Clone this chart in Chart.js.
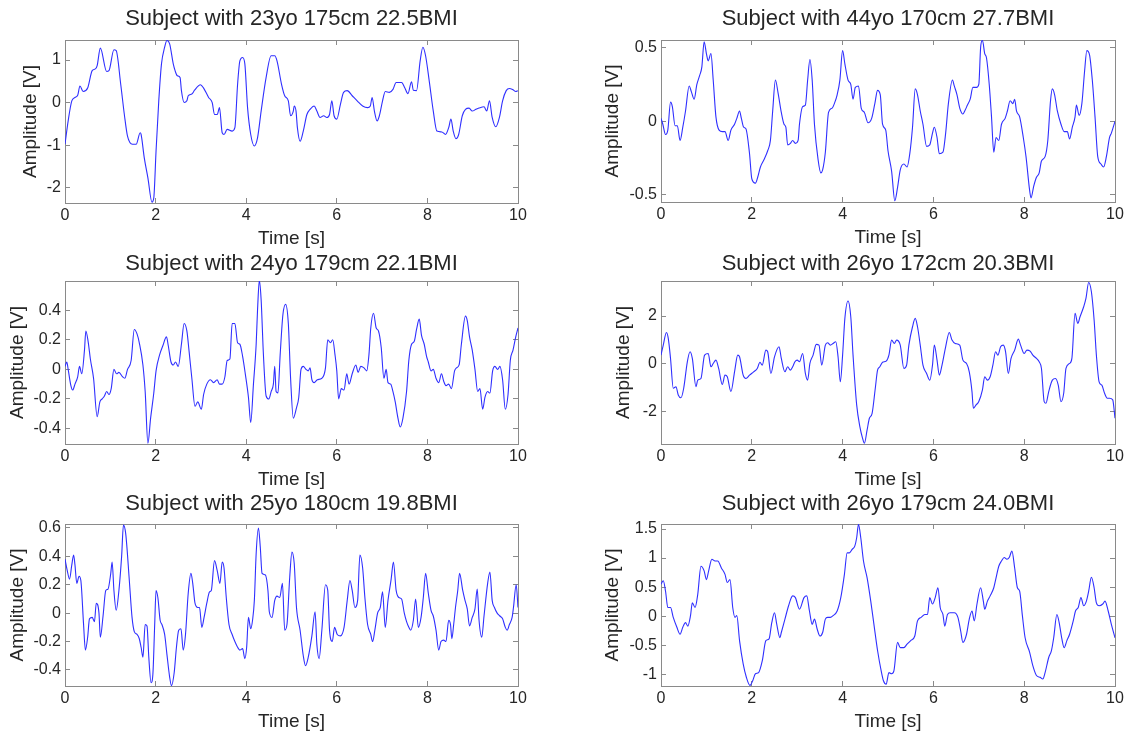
<!DOCTYPE html>
<html><head><meta charset="utf-8">
<script src="https://cdn.jsdelivr.net/npm/chart.js@4.4.1/dist/chart.umd.min.js"></script>
<style>
html,body{margin:0;padding:0;background:#fff;}
#wrap{position:relative;width:1127px;height:735px;overflow:hidden;background:#fff;}
canvas{position:absolute;left:0;top:0;}
</style></head><body><div id="wrap">
<canvas id="c0" width="1160" height="735"></canvas>
<canvas id="c1" width="1160" height="735"></canvas>
<canvas id="c2" width="1160" height="735"></canvas>
<canvas id="c3" width="1160" height="735"></canvas>
<canvas id="c4" width="1160" height="735"></canvas>
<canvas id="c5" width="1160" height="735"></canvas>
</div>
<script>
const titles = [
  "Subject with 23yo 175cm 22.5BMI",
  "Subject with 44yo 170cm 27.7BMI",
  "Subject with 24yo 179cm 22.1BMI",
  "Subject with 26yo 172cm 20.3BMI",
  "Subject with 25yo 180cm 19.8BMI",
  "Subject with 26yo 179cm 24.0BMI"
];
const xLabel = "Time [s]";
const yLabel = "Amplitude [V]";
const xMin = 0, xMax = 10, xStep = 2;
const yMins = [-2.36, -0.548, -0.505, -3.37, -0.513, -1.2];
const yMaxs = [1.47, 0.552, 0.598, 3.47, 0.628, 1.586];
const ySteps = [1, 0.5, 0.2, 2, 0.2, 0.5];

// [time s, amplitude V]
const sig1 = [[0,-0.98],[0.07,-0.43],[0.15,0.04],[0.22,0.12],[0.28,0.17],[0.33,0.39],[0.4,0.26],[0.5,0.34],[0.6,0.75],[0.67,0.79],[0.71,0.87],[0.78,1.28],[0.92,0.73],[0.97,0.75],[1.08,1.24],[1.13,1.22],[1.23,0.43],[1.31,-0.28],[1.38,-0.79],[1.49,-0.98],[1.57,-0.98],[1.66,-0.71],[1.68,-0.75],[1.75,-1.3],[1.83,-1.77],[1.92,-2.34],[1.96,-2.24],[2.01,-1.14],[2.07,0.04],[2.13,0.91],[2.2,1.3],[2.25,1.46],[2.31,1.38],[2.39,0.91],[2.43,0.75],[2.48,0.63],[2.54,0.59],[2.57,0.28],[2.63,0],[2.69,0.04],[2.72,0.16],[2.8,0.2],[2.86,0.29],[2.99,0.42],[3.06,0.34],[3.17,0.12],[3.25,0],[3.3,-0.28],[3.36,-0.28],[3.41,-0.12],[3.47,-0.71],[3.51,-0.75],[3.58,-0.63],[3.69,-0.67],[3.75,-0.59],[3.81,0.43],[3.86,0.98],[3.92,1.06],[3.97,0.91],[4.03,-0.12],[4.1,-0.75],[4.18,-1.02],[4.25,-0.83],[4.33,-0.2],[4.44,0.59],[4.55,1.1],[4.63,1.1],[4.68,0.98],[4.78,0.43],[4.85,0.16],[4.93,0.04],[4.98,-0.31],[5.04,-0.2],[5.06,-0.08],[5.1,-0.2],[5.13,-0.59],[5.19,-0.91],[5.26,-0.67],[5.34,-0.28],[5.41,-0.16],[5.5,-0.08],[5.56,-0.2],[5.63,-0.35],[5.71,-0.31],[5.78,-0.35],[5.84,-0.28],[5.89,0.04],[5.94,-0.31],[6,-0.39],[6.08,-0.04],[6.15,0.24],[6.23,0.28],[6.34,0.16],[6.45,0.04],[6.57,-0.08],[6.68,-0.12],[6.74,-0.08],[6.78,0.12],[6.83,-0.2],[6.89,-0.43],[6.94,-0.31],[7.01,0.04],[7.07,0.26],[7.16,0.24],[7.24,0.31],[7.31,0.47],[7.43,0.47],[7.5,0.35],[7.57,0.21],[7.65,0.49],[7.69,0.29],[7.76,0.28],[7.84,0.98],[7.9,1.3],[7.96,1.1],[8.04,0.51],[8.13,-0.2],[8.21,-0.67],[8.32,-0.69],[8.4,-0.75],[8.47,-0.59],[8.52,-0.39],[8.57,-0.67],[8.63,-0.85],[8.69,-0.75],[8.77,-0.31],[8.84,-0.16],[8.92,-0.13],[8.99,-0.2],[9.07,-0.16],[9.14,-0.13],[9.25,-0.1],[9.31,-0.2],[9.37,0.04],[9.43,-0.35],[9.51,-0.57],[9.59,-0.35],[9.66,0.04],[9.74,0.28],[9.81,0.33],[9.89,0.3],[9.95,0.26],[10,0.28]];

const sig2 = [[0,0.02],[0.04,-0.02],[0.1,-0.09],[0.15,-0.06],[0.21,0.13],[0.25,0.1],[0.31,-0.03],[0.36,-0.03],[0.42,-0.13],[0.48,-0.04],[0.54,0.07],[0.62,0.24],[0.67,0.2],[0.73,0.15],[0.79,0.25],[0.85,0.31],[0.9,0.37],[0.95,0.54],[1,0.46],[1.04,0.41],[1.1,0.46],[1.15,0.28],[1.21,0.03],[1.28,-0.06],[1.35,-0.07],[1.41,-0.07],[1.48,-0.13],[1.54,-0.06],[1.62,-0.02],[1.67,0.02],[1.73,0.07],[1.77,0.02],[1.82,-0.04],[1.87,-0.05],[1.95,-0.22],[2,-0.39],[2.08,-0.42],[2.13,-0.38],[2.19,-0.31],[2.27,-0.26],[2.35,-0.2],[2.41,-0.13],[2.46,0.07],[2.52,0.28],[2.58,0.19],[2.65,0.06],[2.71,-0.02],[2.75,-0.04],[2.79,-0.16],[2.85,-0.15],[2.9,-0.13],[2.96,-0.15],[3.02,-0.13],[3.05,-0.02],[3.12,0.1],[3.18,0.11],[3.23,0.28],[3.28,0.42],[3.33,0.28],[3.38,-0.02],[3.46,-0.26],[3.52,-0.35],[3.56,-0.33],[3.62,-0.21],[3.69,0.06],[3.77,0.09],[3.83,0.13],[3.88,0.18],[3.94,0.28],[4,0.48],[4.05,0.39],[4.12,0.28],[4.18,0.25],[4.23,0.15],[4.28,0.23],[4.35,0.24],[4.41,0.09],[4.48,0.06],[4.56,-0.01],[4.64,0.02],[4.71,0.12],[4.77,0.21],[4.83,0.18],[4.88,-0.02],[4.95,-0.06],[5,-0.2],[5.08,-0.34],[5.15,-0.54],[5.21,-0.45],[5.27,-0.33],[5.35,-0.29],[5.42,-0.31],[5.48,-0.22],[5.54,-0.04],[5.6,0.22],[5.65,0.18],[5.71,0.07],[5.77,-0.02],[5.85,-0.17],[5.92,-0.16],[5.98,-0.08],[6.02,-0.04],[6.08,-0.11],[6.13,-0.22],[6.21,-0.21],[6.27,-0.08],[6.33,0.12],[6.42,0.28],[6.46,0.24],[6.52,0.18],[6.58,0.09],[6.65,0.05],[6.69,0.07],[6.75,0.11],[6.81,0.15],[6.87,0.23],[6.95,0.23],[7,0.25],[7.04,0.5],[7.08,0.55],[7.13,0.46],[7.17,0.43],[7.23,0.25],[7.28,0.03],[7.33,-0.21],[7.38,-0.11],[7.44,-0.13],[7.5,-0.02],[7.58,0.02],[7.63,0.07],[7.69,0.14],[7.75,0.12],[7.79,0.15],[7.83,0.07],[7.9,0.03],[7.98,-0.11],[8.04,-0.24],[8.12,-0.47],[8.15,-0.52],[8.21,-0.44],[8.27,-0.38],[8.33,-0.35],[8.38,-0.27],[8.46,-0.24],[8.52,-0.13],[8.58,0.14],[8.62,0.22],[8.67,0.18],[8.73,0.07],[8.81,-0.02],[8.88,-0.07],[8.95,-0.07],[9,-0.12],[9.06,-0.04],[9.12,0.03],[9.15,0.11],[9.21,0.04],[9.27,0.12],[9.33,0.34],[9.38,0.48],[9.44,0.45],[9.5,0.28],[9.56,0.03],[9.62,-0.24],[9.69,-0.29],[9.75,-0.31],[9.81,-0.24],[9.88,-0.11],[9.92,-0.08],[10,0]];

const sig3 = [[0,0.02],[0.04,0.05],[0.07,0],[0.13,-0.11],[0.17,-0.14],[0.22,-0.1],[0.28,-0.05],[0.32,0.02],[0.37,-0.03],[0.43,0.13],[0.46,0.26],[0.51,0.19],[0.56,0.07],[0.63,-0.06],[0.71,-0.32],[0.77,-0.22],[0.82,-0.2],[0.87,-0.18],[0.92,-0.15],[0.97,-0.17],[1.02,-0.13],[1.08,0],[1.14,-0.03],[1.19,-0.02],[1.27,-0.05],[1.32,-0.06],[1.38,0],[1.46,0.06],[1.53,0.27],[1.59,0.24],[1.64,0.18],[1.72,0.03],[1.77,-0.15],[1.83,-0.5],[1.89,-0.33],[1.96,-0.16],[2.01,-0.01],[2.09,0.1],[2.16,0.16],[2.24,0.22],[2.28,0.16],[2.34,0.05],[2.39,0.03],[2.44,0.05],[2.5,0.02],[2.57,0.17],[2.63,0.31],[2.69,0.26],[2.74,0.12],[2.8,-0.06],[2.87,-0.25],[2.93,-0.22],[3.01,-0.27],[3.06,-0.17],[3.13,-0.1],[3.21,-0.07],[3.28,-0.09],[3.36,-0.07],[3.41,-0.1],[3.47,-0.1],[3.53,-0.05],[3.58,0.06],[3.64,0.07],[3.69,0.31],[3.75,0.31],[3.81,0.18],[3.86,0.17],[3.92,0.09],[3.98,-0.03],[4.05,-0.19],[4.1,-0.36],[4.16,-0.1],[4.22,0.17],[4.25,0.4],[4.29,0.6],[4.33,0.47],[4.38,0.1],[4.44,-0.18],[4.5,-0.2],[4.55,-0.15],[4.6,-0.1],[4.63,0.02],[4.66,-0.15],[4.7,-0.16],[4.75,0.1],[4.81,0.37],[4.87,0.44],[4.93,0.31],[4.98,-0.06],[5.04,-0.33],[5.11,-0.26],[5.16,-0.19],[5.21,0],[5.26,0.02],[5.32,0],[5.37,-0.01],[5.41,0.01],[5.45,-0.07],[5.5,-0.09],[5.57,-0.07],[5.67,-0.06],[5.75,0.01],[5.8,0.2],[5.86,0.18],[5.91,0.2],[5.96,0.1],[6,-0.01],[6.04,-0.2],[6.1,-0.13],[6.16,-0.14],[6.22,-0.03],[6.27,-0.1],[6.34,-0.03],[6.42,0.03],[6.47,-0.02],[6.53,0.02],[6.6,0.01],[6.66,-0.01],[6.71,0.1],[6.75,0.28],[6.81,0.38],[6.87,0.28],[6.92,0.26],[6.98,0.15],[7.04,-0.06],[7.09,0],[7.13,-0.09],[7.19,-0.1],[7.24,-0.15],[7.29,-0.22],[7.35,-0.33],[7.4,-0.39],[7.46,-0.33],[7.54,-0.15],[7.59,0.06],[7.65,0.17],[7.71,0.19],[7.76,0.27],[7.82,0.34],[7.87,0.23],[7.93,0.17],[7.98,0.09],[8.02,0.05],[8.08,-0.01],[8.13,0],[8.19,-0.06],[8.25,-0.09],[8.31,-0.03],[8.36,-0.08],[8.41,-0.11],[8.47,-0.1],[8.53,-0.13],[8.6,-0.01],[8.64,0.01],[8.7,0.03],[8.75,0.17],[8.84,0.36],[8.88,0.33],[8.93,0.22],[8.99,0.13],[9.05,0],[9.11,-0.15],[9.16,-0.13],[9.22,-0.27],[9.27,-0.19],[9.33,-0.15],[9.38,-0.16],[9.44,-0.01],[9.49,0.02],[9.55,0],[9.6,0.02],[9.66,-0.07],[9.72,-0.27],[9.78,-0.17],[9.83,0.06],[9.89,0.13],[9.95,0.22],[10,0.28]];

const sig4 = [[0,0.36],[0.05,0.78],[0.12,1.31],[0.16,1.06],[0.21,0.22],[0.27,-1.03],[0.33,-0.97],[0.38,-1.31],[0.44,-1.43],[0.5,-1.03],[0.58,0.08],[0.64,0.5],[0.69,0.22],[0.77,-0.97],[0.81,-0.69],[0.88,-0.62],[0.96,0.36],[1.04,0.43],[1.1,-0.13],[1.15,0.01],[1.21,0.15],[1.27,-0.2],[1.35,-0.87],[1.41,-0.48],[1.46,-0.55],[1.54,-1.17],[1.62,-0.34],[1.69,0.36],[1.73,0.29],[1.81,-0.48],[1.87,-0.62],[1.95,-0.48],[2.04,-0.34],[2.12,-0.2],[2.18,0.06],[2.23,-0.06],[2.31,0.57],[2.35,0.5],[2.42,-0.41],[2.5,0.29],[2.6,0.71],[2.65,0.22],[2.73,-0.34],[2.79,-0.13],[2.85,-0.27],[2.9,-0.13],[2.95,0.08],[3,0.15],[3.05,0.08],[3.12,0.43],[3.18,-0.41],[3.23,-0.69],[3.28,0.01],[3.35,0.36],[3.42,0.81],[3.48,0.78],[3.54,-0.06],[3.62,0.78],[3.67,0.88],[3.73,0.78],[3.79,0.85],[3.85,0.92],[3.9,0.29],[3.95,-0.76],[4,0.36],[4.05,1.9],[4.12,2.63],[4.18,1.97],[4.23,0.36],[4.31,-1.73],[4.38,-2.64],[4.44,-3.13],[4.48,-3.34],[4.54,-2.78],[4.59,-2.29],[4.65,-2.08],[4.72,-1.03],[4.77,-0.27],[4.82,-0.13],[4.88,0.06],[4.96,0.11],[5.02,0.36],[5.08,0.99],[5.14,0.85],[5.19,0.99],[5.27,0.78],[5.35,-0.2],[5.41,-0.06],[5.46,0.78],[5.54,1.55],[5.6,1.9],[5.65,1.55],[5.71,0.78],[5.77,-0.06],[5.85,-0.41],[5.92,-0.69],[5.98,-0.06],[6.02,0.78],[6.08,0.15],[6.13,-0.48],[6.19,-0.06],[6.27,0.71],[6.35,1.31],[6.41,0.99],[6.48,0.85],[6.58,0.78],[6.65,0.15],[6.73,0.01],[6.79,-0.34],[6.85,-1.17],[6.88,-1.87],[6.94,-1.73],[7,-1.59],[7.08,-1.1],[7.13,-0.55],[7.19,-0.69],[7.25,-0.55],[7.31,-0.06],[7.37,0.5],[7.42,0.36],[7.48,0.71],[7.54,0.78],[7.59,0.5],[7.65,-0.41],[7.71,0.22],[7.79,0.57],[7.87,1.03],[7.92,0.78],[8,0.43],[8.06,0.57],[8.13,0.53],[8.19,0.36],[8.27,0.22],[8.33,0.08],[8.38,-0.2],[8.44,-1.59],[8.48,-1.66],[8.54,-1.17],[8.62,-0.69],[8.69,-0.62],[8.75,-0.9],[8.81,-1.59],[8.87,-1.24],[8.92,-0.2],[9,0.01],[9.05,0.22],[9.12,2.11],[9.18,1.69],[9.23,1.97],[9.31,2.39],[9.36,2.74],[9.42,3.41],[9.48,3.02],[9.54,1.83],[9.59,0.36],[9.65,-0.76],[9.71,-0.9],[9.77,-1.24],[9.83,-1.45],[9.88,-1.45],[9.95,-1.52],[10,-2.29]];

const sig5 = [[0,0.38],[0.05,0.3],[0.1,0.24],[0.15,0.34],[0.19,0.41],[0.22,0.34],[0.26,0.21],[0.31,0.26],[0.35,0.23],[0.41,-0.08],[0.45,-0.26],[0.5,-0.17],[0.54,-0.04],[0.6,-0.03],[0.65,-0.06],[0.69,0.07],[0.75,0],[0.78,-0.17],[0.84,-0.02],[0.9,0.16],[0.95,0.17],[1.01,0.28],[1.04,0.36],[1.08,0.16],[1.13,0.02],[1.19,0.16],[1.25,0.4],[1.29,0.62],[1.34,0.56],[1.42,0.23],[1.48,-0.03],[1.53,-0.13],[1.59,-0.15],[1.64,-0.18],[1.68,-0.24],[1.72,-0.31],[1.77,-0.08],[1.81,-0.09],[1.85,-0.31],[1.9,-0.49],[1.94,-0.43],[1.98,-0.08],[2.01,0.16],[2.05,0.11],[2.1,-0.05],[2.14,-0.08],[2.2,-0.15],[2.25,-0.29],[2.31,-0.45],[2.35,-0.51],[2.41,-0.42],[2.46,-0.24],[2.51,-0.12],[2.56,-0.11],[2.61,-0.26],[2.66,-0.15],[2.72,0.14],[2.78,0.28],[2.82,0.21],[2.87,0.07],[2.93,0.04],[2.97,0.04],[3.02,-0.1],[3.07,-0.03],[3.13,0.07],[3.19,0.15],[3.23,0.16],[3.3,0.37],[3.36,0.3],[3.42,0.21],[3.47,0.36],[3.51,0.32],[3.56,0.11],[3.62,-0.08],[3.69,-0.15],[3.75,-0.2],[3.81,-0.24],[3.86,-0.26],[3.92,-0.25],[3.97,-0.32],[4.01,-0.24],[4.05,-0.03],[4.1,-0.11],[4.14,-0.05],[4.18,0.09],[4.22,0.42],[4.27,0.6],[4.31,0.47],[4.35,0.28],[4.42,0.27],[4.48,0.16],[4.51,0.01],[4.57,-0.03],[4.63,0.09],[4.68,0.12],[4.74,0.11],[4.8,0.21],[4.85,-0.12],[4.9,-0.08],[4.96,0.25],[5.01,0.43],[5.06,0.35],[5.11,0.04],[5.19,-0.12],[5.26,-0.3],[5.31,-0.37],[5.37,-0.31],[5.45,-0.16],[5.52,0.01],[5.56,-0.22],[5.61,-0.32],[5.67,-0.12],[5.75,0.2],[5.8,0.16],[5.84,-0.12],[5.9,-0.2],[5.95,-0.1],[6.01,-0.15],[6.08,-0.16],[6.16,-0.1],[6.23,0.09],[6.29,0.23],[6.34,0.16],[6.4,0.04],[6.46,0.09],[6.51,0.41],[6.57,0.32],[6.62,0.11],[6.68,-0.08],[6.75,-0.15],[6.79,-0.2],[6.84,-0.12],[6.9,0],[6.96,0.04],[7.01,0.15],[7.07,-0.1],[7.13,0.09],[7.2,0.24],[7.25,0.36],[7.31,0.16],[7.37,0.11],[7.43,0.1],[7.49,0],[7.54,-0.06],[7.59,-0.1],[7.63,-0.12],[7.69,-0.05],[7.74,0.1],[7.8,-0.1],[7.86,-0.03],[7.91,0.11],[7.96,0.28],[8.02,0.14],[8.08,0.02],[8.13,-0.02],[8.19,-0.12],[8.25,-0.26],[8.3,-0.2],[8.36,-0.19],[8.41,-0.2],[8.47,-0.05],[8.51,-0.08],[8.54,-0.18],[8.58,-0.08],[8.62,0.04],[8.67,0.16],[8.71,0.28],[8.78,0.16],[8.83,0.09],[8.88,0.03],[8.93,-0.09],[8.99,-0.03],[9.05,0.03],[9.1,0.17],[9.14,-0.05],[9.2,-0.17],[9.25,-0.02],[9.33,0.21],[9.38,0.29],[9.43,0.09],[9.48,0.04],[9.54,0],[9.6,-0.02],[9.66,-0.04],[9.72,-0.1],[9.76,-0.12],[9.81,-0.08],[9.87,-0.03],[9.9,0.04],[9.96,0.2],[10,0.04]];

const sig6 = [[0,0.55],[0.05,0.61],[0.1,0.43],[0.15,0.15],[0.21,0.15],[0.27,-0.02],[0.35,-0.19],[0.42,-0.31],[0.48,-0.19],[0.54,-0.11],[0.59,-0.17],[0.65,0.01],[0.69,0.23],[0.75,0.15],[0.81,0.38],[0.88,0.86],[0.95,0.78],[1,0.63],[1.05,0.78],[1.12,0.98],[1.19,0.95],[1.25,0.95],[1.33,0.83],[1.41,0.72],[1.46,0.58],[1.52,0.63],[1.58,0.15],[1.63,-0.02],[1.67,0.01],[1.73,-0.42],[1.81,-0.82],[1.88,-1.05],[1.96,-1.19],[2.02,-1.11],[2.08,-0.99],[2.15,-0.97],[2.23,-0.77],[2.31,-0.42],[2.38,-0.39],[2.44,-0.11],[2.5,0.06],[2.55,-0.14],[2.62,-0.37],[2.65,-0.28],[2.73,-0.05],[2.81,0.18],[2.9,0.35],[2.96,0.32],[3.05,0.12],[3.15,0.32],[3.21,0.35],[3.27,0.09],[3.33,-0.14],[3.38,-0.05],[3.44,-0.22],[3.5,-0.34],[3.56,-0.28],[3.62,-0.05],[3.67,-0.02],[3.73,-0.02],[3.79,0.01],[3.88,0.09],[3.96,0.32],[4.04,0.72],[4.1,1.09],[4.15,1.09],[4.21,1.15],[4.27,1.21],[4.31,1.35],[4.35,1.58],[4.4,1.35],[4.46,0.95],[4.54,0.66],[4.62,0.26],[4.69,-0.14],[4.77,-0.59],[4.85,-0.94],[4.9,-1.11],[4.96,-1.17],[5.02,-0.97],[5.08,-0.99],[5.13,-0.94],[5.21,-0.45],[5.27,-0.54],[5.35,-0.54],[5.42,-0.48],[5.5,-0.42],[5.59,-0.34],[5.65,-0.08],[5.73,-0.02],[5.81,0.03],[5.87,0.03],[5.92,0.32],[5.98,0.21],[6.04,0.32],[6.1,0.49],[6.15,0.15],[6.21,0.03],[6.25,-0.17],[6.31,0.03],[6.37,0.06],[6.46,0.06],[6.54,-0.02],[6.6,-0.25],[6.65,-0.45],[6.73,-0.31],[6.79,-0.05],[6.85,0.09],[6.9,-0.08],[6.96,0.21],[7.04,0.49],[7.1,0.26],[7.13,0.12],[7.19,0.26],[7.25,0.35],[7.33,0.49],[7.38,0.66],[7.44,0.86],[7.5,0.95],[7.56,1.01],[7.62,0.98],[7.67,1.01],[7.73,1.12],[7.79,0.83],[7.85,0.49],[7.9,0.43],[7.96,0.01],[8.02,-0.37],[8.12,-0.62],[8.19,-0.85],[8.27,-1.02],[8.35,-1.05],[8.41,-1.08],[8.46,-0.97],[8.54,-0.71],[8.6,-0.59],[8.65,-0.37],[8.72,0.03],[8.77,-0.11],[8.83,-0.39],[8.88,-0.54],[8.94,-0.42],[9,-0.31],[9.08,-0.08],[9.13,0.09],[9.19,0.15],[9.25,0.32],[9.31,0.18],[9.37,0.26],[9.42,0.43],[9.48,0.67],[9.54,0.49],[9.59,0.23],[9.65,0.18],[9.73,0.21],[9.78,0.26],[9.85,0.09],[9.92,-0.14],[10,-0.37]];

const signals = [sig1, sig2, sig3, sig4, sig5, sig6];

// page layout (pixels): plot box, title centre, y-label centre
const W = 1160, H = 735;
const panels = [
  {axL:0,   l:65,  r:518,  t:40,  b:203, ty:19,  yx:31},
  {axL:596, l:661, r:1115, t:40,  b:202, ty:19,  yx:613},
  {axL:0,   l:65,  r:518,  t:281, b:444, ty:264, yx:17.5},
  {axL:596, l:661, r:1115, t:281, b:444, ty:264, yx:624},
  {axL:0,   l:65,  r:518,  t:524, b:686, ty:504, yx:17.5},
  {axL:596, l:661, r:1115, t:524, b:686, ty:504, yx:613}
];

const FONT = "'Liberation Sans', Arial, Helvetica, sans-serif";
const TXT = '#262626';
const AXC = '#8a8a8a';
const TITLE_SIZE = 22, LABEL_SIZE = 19, TICK_SIZE = 16;
const X_AXIS_H = 48;

function grid() {
  return {drawOnChartArea:false, drawTicks:true, tickLength:-5, color:AXC, lineWidth:1};
}
function fmt(v) { return String(Math.round(v * 100) / 100); }

function build(i) {
  const P = panels[i];
  const tLH = TITLE_SIZE * 1.2, lLH = LABEL_SIZE * 1.2;
  new Chart(document.getElementById('c' + i), {
    type: 'line',
    data: {datasets: [{
      data: signals[i].map(p => ({x: p[0], y: p[1]})),
      borderColor: '#2f2fff', borderWidth: 1.1, pointRadius: 0,
      cubicInterpolationMode: 'monotone', fill: false, xAxisID: 'x', yAxisID: 'y'
    }]},
    options: {
      responsive: false, animation: false, events: [],
      layout: {padding: {left: P.axL, right: W - P.r, top: 0, bottom: H - P.b - X_AXIS_H}},
      plugins: {
        legend: {display: false}, tooltip: {enabled: false},
        title: {display: true, text: titles[i], fullSize: false, color: TXT,
          font: {family: FONT, size: TITLE_SIZE, weight: 'normal'},
          padding: {top: P.ty - tLH / 2, bottom: P.t - P.ty - tLH / 2}}
      },
      scales: {
        x: {type: 'linear', position: 'bottom', min: xMin, max: xMax,
          ticks: {stepSize: xStep, color: TXT, font: {family: FONT, size: TICK_SIZE}, padding: 8.4, maxRotation: 0, autoSkip: false, callback: fmt},
          grid: grid(), border: {color: AXC},
          title: {display: true, text: xLabel, color: TXT, font: {family: FONT, size: LABEL_SIZE}, padding: {top: 0, bottom: 0.6}},
          afterFit: s => { s.height = X_AXIS_H; }},
        y: {type: 'linear', position: 'left', min: yMins[i], max: yMaxs[i],
          ticks: {stepSize: ySteps[i], includeBounds: false, color: TXT, font: {family: FONT, size: TICK_SIZE}, padding: 9, autoSkip: false, callback: fmt},
          grid: grid(), border: {color: AXC},
          title: {display: true, text: yLabel, color: TXT, font: {family: FONT, size: LABEL_SIZE}, padding: {top: P.yx - P.axL - lLH / 2, bottom: 0}},
          afterFit: s => { s.width = P.l - P.axL; }},
        x2: {type: 'linear', position: 'top', min: xMin, max: xMax,
          ticks: {stepSize: xStep, display: false}, grid: grid(), border: {color: AXC},
          afterFit: s => { s.height = 0; }},
        y2: {type: 'linear', position: 'right', min: yMins[i], max: yMaxs[i],
          ticks: {stepSize: ySteps[i], includeBounds: false, display: false}, grid: grid(), border: {color: AXC},
          afterFit: s => { s.width = 0; }}
      }
    }
  });
}
for (let i = 0; i < 6; i++) build(i);
</script>
</body></html>
